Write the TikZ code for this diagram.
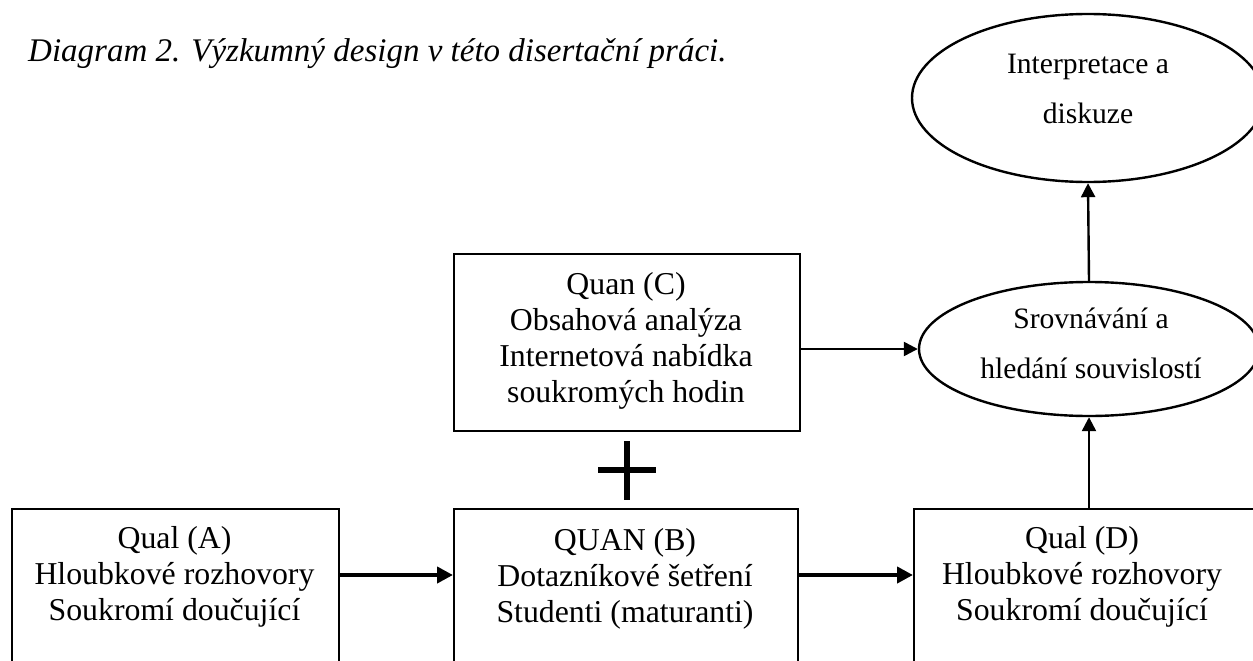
\documentclass[tikz,border=0pt]{standalone}
\usepackage{fontspec}
\setmainfont{Liberation Serif}
\usetikzlibrary{shapes.geometric,arrows.meta,calc}
\begin{document}
\begin{tikzpicture}[x=1pt,y=-1pt,
  boxshape/.style={draw, line width=2pt, rectangle, inner sep=0pt, anchor=north west},
  ovalshape/.style={draw, line width=2.4pt, ellipse, inner sep=0pt},
  boxtext/.style={align=center, inner sep=0pt, anchor=north, font=\fontsize{31.8}{36}\selectfont},
  ovaltext/.style={align=center, inner sep=0pt, anchor=north, font=\fontsize{29.6}{50}\selectfont},
  heavyarrow/.style={line width=4pt, -{Triangle[length=16pt,width=16pt]}},
  lightarrow/.style={line width=2.4pt, -{Triangle[length=14pt,width=14pt]}},
  plusbar/.style={line width=6.5pt},
]
\useasboundingbox (0,0) rectangle (1253,661);
\clip (0,0) rectangle (1253,661);

% title
\node[anchor=base west, inner sep=0pt, font=\itshape\fontsize{33}{38}\selectfont] (title) at (28,62)
  {Diagram 2. Výzkumný design v této disertační práci.};

% boxes
\node[boxshape, minimum width=327pt, minimum height=200pt] (A) at (11,508) {};
\node[boxshape, minimum width=344pt, minimum height=200pt] (B) at (453,508) {};
\node[boxshape, minimum width=400pt, minimum height=200pt] (D) at (913,508) {};
\node[boxshape, minimum width=346pt, minimum height=177pt] (C) at (453,253) {};

\node[boxtext] (At) at (174.5,526) {Qual (A)\\Hloubkové rozhovory\\Soukromí doučující};
\node[boxtext] (Bt) at (625,528) {QUAN (B)\\Dotazníkové šetření\\Studenti (maturanti)};
\node[boxtext] (Dt) at (1082,526) {Qual (D)\\Hloubkové rozhovory\\Soukromí doučující};
\node[boxtext] (Ct) at (626,272) {Quan (C)\\Obsahová analýza\\Internetová nabídka\\soukromých hodin};

% ellipses
\node[ovalshape, minimum width=352pt, minimum height=168pt] (E1) at (1088,98) {};
\node[ovalshape, minimum width=340pt, minimum height=134pt] (E2) at (1089,349) {};
\node[ovaltext] (E1t) at (1088,54) {Interpretace a\\diskuze};
\node[ovaltext] (E2t) at (1091,308) {Srovnávání a\\hledání souvislostí};

% plus sign
\coordinate (plus) at (627,470);
\draw[plusbar] ($(plus)+(-29,0)$) -- ($(plus)+(29,0)$);
\draw[plusbar] ($(plus)+(0,-29)$) -- ($(plus)+(0,30)$);

% connectors
\draw[heavyarrow] ([yshift=-67pt]A.north east) -- ([yshift=-67pt]B.north west);
\draw[heavyarrow] ([yshift=-67pt]B.north east) -- ([yshift=-67pt]D.north west);
\draw[lightarrow] (C.east |- E2.west) -- (E2.west);
\draw[lightarrow] (E2.south |- D.north) -- (E2.south);
\draw[lightarrow] (E2.north) -- (E1.south);
\end{tikzpicture}
\end{document}
